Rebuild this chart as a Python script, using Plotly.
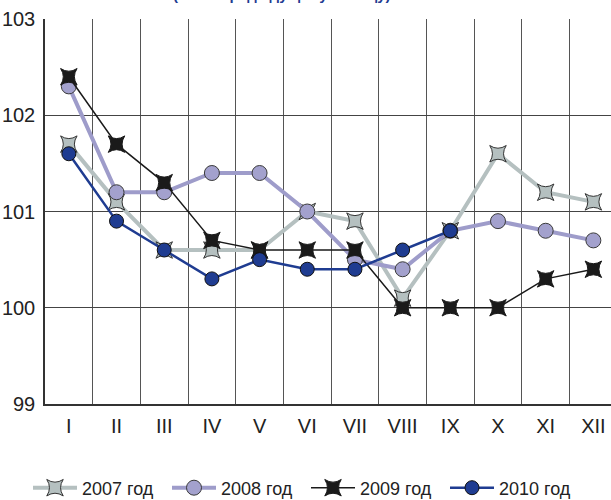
import plotly.graph_objects as go

months = ["I", "II", "III", "IV", "V", "VI", "VII", "VIII", "IX", "X", "XI", "XII"]
y2007 = [101.7, 101.1, 100.6, 100.6, 100.6, 101.0, 100.9, 100.1, 100.8, 101.6, 101.2, 101.1]
y2008 = [102.3, 101.2, 101.2, 101.4, 101.4, 101.0, 100.5, 100.4, 100.8, 100.9, 100.8, 100.7]
y2009 = [102.4, 101.7, 101.3, 100.7, 100.6, 100.6, 100.6, 100.0, 100.0, 100.0, 100.3, 100.4]
y2010 = [101.6, 100.9, 100.6, 100.3, 100.5, 100.4, 100.4, 100.6, 100.8]
series_names = ["2007 год", "2008 год", "2009 год", "2010 год"]
title_text = "(в % к предыдущему месяцу)"

xpos = list(range(1, 13))
FONT = "Liberation Sans, Arial, sans-serif"

fig = go.Figure()
fig.add_trace(go.Scatter(
    x=xpos, y=y2007, name=series_names[0], mode="lines+markers",
    line=dict(color="#b5c0c0", width=4),
    marker=dict(symbol="star-square", size=15, color="#b5c0c0",
                line=dict(color="#333333", width=1))))
fig.add_trace(go.Scatter(
    x=xpos, y=y2008, name=series_names[1], mode="lines+markers",
    line=dict(color="#9e9cca", width=4),
    marker=dict(symbol="circle", size=15, color="#a3a1cd",
                line=dict(color="#3a3a3a", width=1))))
fig.add_trace(go.Scatter(
    x=xpos, y=y2009, name=series_names[2], mode="lines+markers",
    line=dict(color="#1a1a1a", width=1.5),
    marker=dict(symbol="star-square", size=15, color="#1a1a1a",
                line=dict(color="#1a1a1a", width=1))))
fig.add_trace(go.Scatter(
    x=xpos[:len(y2010)], y=y2010, name=series_names[3], mode="lines+markers",
    line=dict(color="#1f3c91", width=2.5),
    marker=dict(symbol="circle", size=14, color="#1f3c91",
                line=dict(color="#111111", width=1))))

fig.update_layout(
    width=611, height=500,
    margin=dict(l=45, r=0, t=19, b=96, autoexpand=False),
    paper_bgcolor="white", plot_bgcolor="white",
    font=dict(family=FONT, color="#222222", size=18),
    showlegend=True,
    legend=dict(orientation="h", xref="container", x=28 / 611, xanchor="left",
                yref="container", y=12 / 500, yanchor="middle",
                entrywidth=80, entrywidthmode="pixels", itemwidth=44,
                font=dict(size=18, family=FONT, color="#222222"),
                traceorder="normal", bgcolor="rgba(0,0,0,0)"),
    xaxis=dict(range=[0.5, 12.37], tickvals=xpos, ticktext=months,
               showgrid=False, zeroline=False, automargin=False,
               showline=True, linecolor="#333333", linewidth=1.5,
               ticks="", ticklabelstandoff=3,
               minor=dict(tick0=0.5, dtick=1, showgrid=True, gridcolor="#555555", gridwidth=1),
               tickfont=dict(size=20, family=FONT)),
    yaxis=dict(range=[99, 103], dtick=1, tick0=99,
               showgrid=True, gridcolor="#444444", gridwidth=1,
               zeroline=False, showline=True, linecolor="#333333", linewidth=1.5,
               ticks="", ticklabelstandoff=4, automargin=False,
               tickfont=dict(size=20, family=FONT)),
    annotations=[dict(text="<b>" + title_text + "</b>", xref="paper", yref="paper",
                      x=0.419, y=1 + 14 / 385, xanchor="center", yanchor="bottom",
                      showarrow=False, font=dict(size=15, color="#1f3c91", family=FONT))],
)

fig.write_html("out.html", config={"displayModeBar": False},
               post_script="document.body.style.margin='0';document.body.style.overflow='hidden';")
